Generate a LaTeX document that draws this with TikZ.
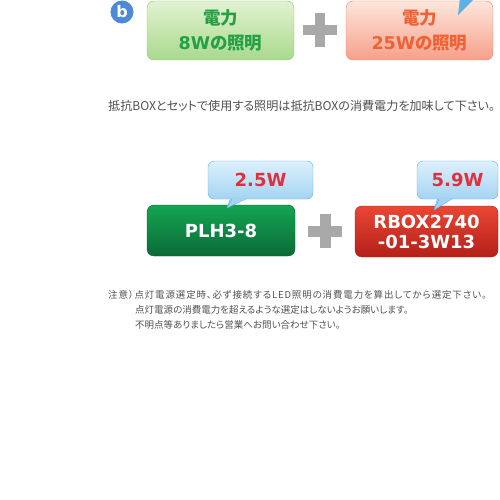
\documentclass[tikz,border=0pt]{standalone}
\usepackage{fontspec}
\setmainfont{Noto Sans CJK JP}[RawFeature=+palt]
\newfontfamily\spaced{Noto Sans CJK JP}[RawFeature=+palt,LetterSpace=9]
\newfontfamily\wide{DejaVu Sans}

\definecolor{notegray}{HTML}{505050}
\definecolor{plusgray}{HTML}{A8A8A8}
\definecolor{circblue}{HTML}{4A8AD6}
\definecolor{lgtop}{HTML}{E2F2D2}
\definecolor{lgbot}{HTML}{A9D98C}
\definecolor{lgline}{HTML}{8CC66E}
\definecolor{lgtext}{HTML}{25A046}
\definecolor{lrtop}{HTML}{FDE6DC}
\definecolor{lrbot}{HTML}{F6A08A}
\definecolor{lrline}{HTML}{EE8070}
\definecolor{lrtext}{HTML}{EE6234}
\definecolor{dgtop}{HTML}{14A552}
\definecolor{dgbot}{HTML}{0B6A38}
\definecolor{dgline}{HTML}{0A5C30}
\definecolor{drtop}{HTML}{EA4634}
\definecolor{drbot}{HTML}{B5201A}
\definecolor{drline}{HTML}{9A1C16}
\definecolor{bbtop}{HTML}{DDF0FC}
\definecolor{bbbot}{HTML}{A4D4F2}
\definecolor{bbline}{HTML}{5CB2E2}
\definecolor{wattred}{HTML}{E0303E}

\begin{document}
\begin{tikzpicture}[x=1pt,y=-1pt,
        box/.style={rounded corners=7pt,minimum width=147pt,minimum height=59pt,
            align=center,font=\bfseries\fontsize{17.5}{25}\selectfont},
        lightgreen/.style={box,draw=lgline,top color=lgtop,bottom color=lgbot,text=lgtext},
        lightred/.style={box,draw=lrline,top color=lrtop,bottom color=lrbot,text=lrtext},
        darkgreen/.style={box,minimum width=148pt,minimum height=51pt,draw=dgline,
            top color=dgtop,bottom color=dgbot,text=white,font=\wide\bfseries\fontsize{18}{20}\selectfont},
        darkred/.style={box,minimum width=143pt,minimum height=51pt,draw=drline,
            top color=drtop,bottom color=drbot,text=white,font=\wide\bfseries\fontsize{18}{20}\selectfont},
        bubble/.style={rounded corners=6pt,draw=bbline,top color=bbtop,bottom color=bbbot,
            minimum height=38pt,text=wattred,font=\wide\bfseries\fontsize{18}{20}\selectfont},
        tail/.style={fill=bbbot!85!bbtop,draw=bbline,line join=round},
        plusbar/.style={fill=plusgray},
        note/.style={anchor=west,text=notegray,inner sep=0pt}]
    \useasboundingbox (0,0) rectangle (500,500);

    % Mark b
    \node[circle,draw=white,line width=0.8pt,fill=circblue,minimum size=24pt,inner sep=0pt,
        text=white,font=\wide\bfseries\fontsize{16}{16}\selectfont] (markb) at (122,12) {b};

    % Upper row
    \node[lightgreen] (light8) at (220.5,30.5) {電力\\{\wide 8W}の照明};
    \node[lightred] (light25) at (419.5,30.5) {電力\\{\wide 25W}の照明};
    \node[inner sep=0pt,minimum size=34pt] (plusa) at (320,30) {};
    \fill[plusbar] ([xshift=-17pt,yshift=-5pt]plusa.center) rectangle ([xshift=17pt,yshift=5pt]plusa.center);
    \fill[plusbar] ([xshift=-5pt,yshift=-17pt]plusa.center) rectangle ([xshift=5pt,yshift=17pt]plusa.center);
    \coordinate (tipa) at (458,15);
    \fill[bbline] (460,-2) -- (tipa) -- (475,-2) -- cycle;

    % Middle text
    \node[note,font=\fontsize{12.1}{14}\selectfont] (intro) at (108,106)
        {抵抗BOXとセットで使用する照明は抵抗BOXの消費電力を加味して下さい。};

    % Lower row
    \node[darkgreen] (plh) at (221,230.5) {PLH3-8};
    \node[darkred] (rbox) at (426.5,231.5) {RBOX2740\\-01-3W13};
    \node[inner sep=0pt,minimum size=34pt] (plusb) at (325,231) {};
    \fill[plusbar] ([xshift=-17pt,yshift=-5.5pt]plusb.center) rectangle ([xshift=17pt,yshift=5.5pt]plusb.center);
    \fill[plusbar] ([xshift=-5.5pt,yshift=-17pt]plusb.center) rectangle ([xshift=5.5pt,yshift=17pt]plusb.center);

    % Bubbles
    \coordinate (tipb) at (227,208);
    \coordinate (tipc) at (434,210);
    \draw[tail] (231,197) -- (tipb) -- (247,197);
    \draw[tail] (438,197) -- (tipc) -- (453,197);
    \node[bubble,minimum width=105pt] (w25) at (260.5,180) {2.5W};
    \node[bubble,minimum width=81pt] (w59) at (457.5,180) {5.9W};
    \fill[bbbot] (232,198.4) -- (tipb) -- (246,198.4) -- cycle;
    \fill[bbbot] (439,198.4) -- (tipc) -- (452,198.4) -- cycle;
    \draw[bbline,line join=round] (232,199) -- (tipb) -- (246,199);
    \draw[bbline,line join=round] (439,199) -- (tipc) -- (452,199);

    % Notes
    \node[note,font=\spaced\fontsize{9.5}{12}\selectfont] (notea) at (108,295)
        {注意）点灯電源選定時、必ず接続するLED照明の消費電力を算出してから選定下さい。};
    \node[note,font=\fontsize{9.5}{12}\selectfont] (noteb) at (135,310)
        {点灯電源の消費電力を超えるような選定はしないようお願いします。};
    \node[note,font=\fontsize{9.5}{12}\selectfont] (notec) at (135,325)
        {不明点等ありましたら営業へお問い合わせ下さい。};
\end{tikzpicture}
\end{document}
